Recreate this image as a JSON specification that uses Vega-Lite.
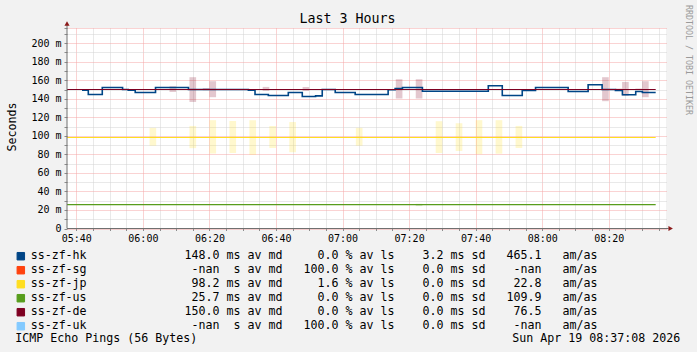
{
  "$schema": "https://vega.github.io/schema/vega-lite/v6.json",
  "width": 599,
  "height": 200.5,
  "autosize": {"type": "none"},
  "padding": {"left": 67, "top": 28, "right": 31, "bottom": 123.5},
  "background": "#F2F2F2",
  "view": {"fill": "#FFFFFF", "stroke": null},
  "config": {"font": "DejaVu Sans Mono"},
  "title": {"text": "Last 3 Hours", "font": "DejaVu Sans Mono", "fontSize": 13.3, "fontWeight": "normal", "color": "#000000", "anchor": "middle", "frame": "group", "dx": -19, "baseline": "alphabetic", "offset": 0, "dy": 31.3},
  "datasets": {
    "smoke": [
      {"series": "ss-zf-jp", "t": 362, "t2": 364, "lo": 89.4, "hi": 108.6},
      {"series": "ss-zf-jp", "t": 374, "t2": 376, "lo": 86.7, "hi": 110.7},
      {"series": "ss-zf-jp", "t": 380, "t2": 382, "lo": 80.9, "hi": 116.9},
      {"series": "ss-zf-jp", "t": 386, "t2": 388, "lo": 81.6, "hi": 116.0},
      {"series": "ss-zf-jp", "t": 392, "t2": 394, "lo": 79.6, "hi": 116.9},
      {"series": "ss-zf-jp", "t": 398, "t2": 400, "lo": 86.9, "hi": 110.6},
      {"series": "ss-zf-jp", "t": 404, "t2": 406, "lo": 82.3, "hi": 114.9},
      {"series": "ss-zf-jp", "t": 424, "t2": 426, "lo": 89.4, "hi": 108.6},
      {"series": "ss-zf-jp", "t": 448, "t2": 450, "lo": 81.5, "hi": 115.8},
      {"series": "ss-zf-jp", "t": 454, "t2": 456, "lo": 83.7, "hi": 113.6},
      {"series": "ss-zf-jp", "t": 460, "t2": 462, "lo": 80.2, "hi": 116.9},
      {"series": "ss-zf-jp", "t": 466, "t2": 468, "lo": 80.7, "hi": 116.9},
      {"series": "ss-zf-jp", "t": 472, "t2": 474, "lo": 86.9, "hi": 110.7},
      {"series": "ss-zf-de", "t": 368, "t2": 370, "lo": 147.4, "hi": 153.6},
      {"series": "ss-zf-de", "t": 374, "t2": 376, "lo": 136.6, "hi": 163.3},
      {"series": "ss-zf-de", "t": 378, "t2": 380, "lo": 149.3, "hi": 151.7},
      {"series": "ss-zf-de", "t": 380, "t2": 382, "lo": 141.7, "hi": 159.0},
      {"series": "ss-zf-de", "t": 396, "t2": 398, "lo": 148.5, "hi": 152.8},
      {"series": "ss-zf-de", "t": 408, "t2": 410, "lo": 148.5, "hi": 152.8},
      {"series": "ss-zf-de", "t": 436, "t2": 438, "lo": 140.3, "hi": 161.1},
      {"series": "ss-zf-de", "t": 442, "t2": 444, "lo": 140.3, "hi": 161.1},
      {"series": "ss-zf-de", "t": 498, "t2": 500, "lo": 137.4, "hi": 163.3},
      {"series": "ss-zf-de", "t": 502, "t2": 504, "lo": 149.3, "hi": 151.1},
      {"series": "ss-zf-de", "t": 504, "t2": 506, "lo": 143.1, "hi": 158.2},
      {"series": "ss-zf-de", "t": 508, "t2": 510, "lo": 149.3, "hi": 151.1},
      {"series": "ss-zf-de", "t": 510, "t2": 512, "lo": 141.7, "hi": 159.0},
      {"series": "ss-zf-us", "t": 442, "t2": 444, "lo": 24.2, "hi": 26.6}
    ],
    "hk": [
      {"series": "ss-zf-hk", "t": 341.7, "v": 149.3},
      {"series": "ss-zf-hk", "t": 343.6, "v": 144.6},
      {"series": "ss-zf-hk", "t": 347.8, "v": 152.2},
      {"series": "ss-zf-hk", "t": 353.9, "v": 150.0},
      {"series": "ss-zf-hk", "t": 355.6, "v": 149.3},
      {"series": "ss-zf-hk", "t": 357.7, "v": 146.8},
      {"series": "ss-zf-hk", "t": 363.8, "v": 152.2},
      {"series": "ss-zf-hk", "t": 373.7, "v": 150.0},
      {"series": "ss-zf-hk", "t": 391.7, "v": 149.3},
      {"series": "ss-zf-hk", "t": 393.7, "v": 144.6},
      {"series": "ss-zf-hk", "t": 397.7, "v": 143.5},
      {"series": "ss-zf-hk", "t": 403.7, "v": 146.8},
      {"series": "ss-zf-hk", "t": 407.9, "v": 142.5},
      {"series": "ss-zf-hk", "t": 411.9, "v": 143.1},
      {"series": "ss-zf-hk", "t": 413.9, "v": 150.0},
      {"series": "ss-zf-hk", "t": 417.8, "v": 146.8},
      {"series": "ss-zf-hk", "t": 423.8, "v": 144.6},
      {"series": "ss-zf-hk", "t": 433.7, "v": 149.8},
      {"series": "ss-zf-hk", "t": 435.8, "v": 151.1},
      {"series": "ss-zf-hk", "t": 438.0, "v": 152.2},
      {"series": "ss-zf-hk", "t": 444.0, "v": 148.2},
      {"series": "ss-zf-hk", "t": 463.8, "v": 154.1},
      {"series": "ss-zf-hk", "t": 468.0, "v": 143.5},
      {"series": "ss-zf-hk", "t": 474.0, "v": 148.9},
      {"series": "ss-zf-hk", "t": 478.0, "v": 152.2},
      {"series": "ss-zf-hk", "t": 487.8, "v": 147.9},
      {"series": "ss-zf-hk", "t": 493.8, "v": 155.2},
      {"series": "ss-zf-hk", "t": 498.0, "v": 150.0},
      {"series": "ss-zf-hk", "t": 502.0, "v": 148.9},
      {"series": "ss-zf-hk", "t": 504.1, "v": 144.4},
      {"series": "ss-zf-hk", "t": 508.1, "v": 147.9},
      {"series": "ss-zf-hk", "t": 510.1, "v": 146.8},
      {"series": "ss-zf-hk", "t": 514.1, "v": 146.8}
    ],
    "flat": [
      {"series": "ss-zf-jp", "t": 337.2, "v": 98.2},
      {"series": "ss-zf-jp", "t": 514.1, "v": 98.2},
      {"series": "ss-zf-us", "t": 337.2, "v": 25.7},
      {"series": "ss-zf-us", "t": 514.1, "v": 25.7},
      {"series": "ss-zf-de", "t": 337.2, "v": 150.0},
      {"series": "ss-zf-de", "t": 514.1, "v": 150.0}
    ],
    "frame": [
      {"role": "axis", "t": 337.2, "t2": 337.2, "v": 0, "v2": 219.5},
      {"role": "axis", "t": 337.2, "t2": 518.0, "v": 0, "v2": 0},
      {"role": "up", "t": 337.2, "v": 221.2},
      {"role": "right", "t": 518.6, "v": 0},
      {"role": "credit", "t": 523.9, "v": 241.2, "label": "RRDTOOL / TOBI OETIKER"}
    ]
  },
  "resolve": {"axis": {"x": "independent", "y": "independent"}},
  "layer": [
    {
      "data": {"name": "smoke"},
      "mark": {"type": "rect", "opacity": 0.22},
      "encoding": {
        "x": {"field": "t", "type": "quantitative", "scale": {"domain": [337.2, 517.2], "zero": false, "nice": false},
          "axis": {
            "values": [340,345,350,355,360,365,370,375,380,385,390,395,400,405,410,415,420,425,430,435,440,445,450,455,460,465,470,475,480,485,490,495,500,505,510,515],
            "labelExpr": "datum.value % 20 === 0 ? (datum.value < 600 ? '0' : '') + floor(datum.value / 60) + ':' + (datum.value % 60 < 10 ? '0' : '') + (datum.value % 60) : ''",
            "labelFont": "DejaVu Sans Mono", "labelFontSize": 10, "labelColor": "#000000", "labelPadding": 3,
            "labelOverlap": false, "labelFlush": false, "labelBound": false,
            "tickSize": 2, "tickColor": "#8c8c8c",
            "domain": false,
            "grid": true,
            "gridColor": {"condition": {"test": "datum.value % 20 === 0", "value": "#F4A6A6"}, "value": "#D2D2D2"},
            "gridDash": [1, 1], "gridWidth": 1,
            "title": "ICMP Echo Pings (56 Bytes)\u00a0\u00a0\u00a0\u00a0\u00a0\u00a0\u00a0\u00a0\u00a0\u00a0\u00a0\u00a0\u00a0\u00a0\u00a0\u00a0\u00a0\u00a0\u00a0\u00a0\u00a0\u00a0\u00a0\u00a0\u00a0\u00a0\u00a0\u00a0\u00a0\u00a0\u00a0\u00a0\u00a0\u00a0\u00a0\u00a0\u00a0\u00a0\u00a0\u00a0\u00a0\u00a0\u00a0\u00a0\u00a0Sun Apr 19 08:37:08 2026",
            "titleFont": "DejaVu Sans Mono", "titleFontSize": 11.63, "titleFontWeight": "normal", "titleColor": "#000000",
            "titleX": -52.2, "titleY": 113.2, "titleAlign": "left", "titleBaseline": "alphabetic", "titleAnchor": "start"
          }},
        "x2": {"field": "t2"},
        "y": {"field": "lo", "type": "quantitative", "scale": {"domain": [0, 216.4], "zero": false, "nice": false},
          "axis": {
            "orient": "left",
            "values": [0,10,20,30,40,50,60,70,80,90,100,110,120,130,140,150,160,170,180,190,200,210,216.4],
            "labelExpr": "datum.value === 0 ? '0' : (datum.value % 20 === 0 ? datum.value + ' m' : '')",
            "labelFont": "DejaVu Sans Mono", "labelFontSize": 10, "labelColor": "#000000", "labelPadding": 3,
            "labelOverlap": false, "labelFlush": false, "labelBound": false,
            "tickSize": 3, "tickColor": "#8c8c8c",
            "domain": false,
            "grid": true,
            "gridColor": {"condition": {"test": "datum.value % 20 === 0 || datum.value > 215", "value": "#F4A6A6"}, "value": "#D2D2D2"},
            "gridDash": [1, 1], "gridWidth": 1,
            "title": "Seconds",
            "titleFont": "DejaVu Sans Mono", "titleFontSize": 11.63, "titleFontWeight": "normal", "titleColor": "#000000",
            "titleAngle": 270, "titleX": -52, "titleY": 98.5, "titleAlign": "center", "titleBaseline": "alphabetic"
          }},
        "y2": {"field": "hi"},
        "color": {"field": "series", "type": "nominal",
          "scale": {"domain": ["ss-zf-hk","ss-zf-sg","ss-zf-jp","ss-zf-us","ss-zf-de","ss-zf-uk"], "range": ["#004586","#ff420e","#ffde20","#579d1c","#7e0021","#83caff"]},
          "legend": {
            "orient": "none", "legendX": -52, "legendY": 222.4, "title": null, "direction": "vertical",
            "symbolType": "square", "symbolSize": 56, "symbolStrokeWidth": 1, "symbolStrokeColor": "#000000", "symbolOpacity": 1,
            "labelFont": "DejaVu Sans Mono", "labelFontSize": 11.63, "labelColor": "#000000", "labelLimit": 700,
            "labelOffset": 4, "rowPadding": 1.0, "padding": 0, "offset": 0,
            "encode": {"symbols": {"update": {"stroke": {"value": "#000000"}, "strokeWidth": {"value": 1}}}},
            "labelExpr": "replace(datum.label === 'ss-zf-hk' ? 'ss-zf-hk              148.0 ms av md     0.0 % av ls    3.2 ms sd   465.1   am/as' : datum.label === 'ss-zf-sg' ? 'ss-zf-sg               -nan  s av md   100.0 % av ls    0.0 ms sd    -nan   am/as' : datum.label === 'ss-zf-jp' ? 'ss-zf-jp               98.2 ms av md     1.6 % av ls    0.0 ms sd    22.8   am/as' : datum.label === 'ss-zf-us' ? 'ss-zf-us               25.7 ms av md     0.0 % av ls    0.0 ms sd   109.9   am/as' : datum.label === 'ss-zf-de' ? 'ss-zf-de              150.0 ms av md     0.0 % av ls    0.0 ms sd    76.5   am/as' : 'ss-zf-uk               -nan  s av md   100.0 % av ls    0.0 ms sd    -nan   am/as', regexp(' ', 'g'), '\u00a0')"
          }}
      }
    },
    {
      "data": {"name": "hk"},
      "mark": {"type": "line", "interpolate": "step-after", "strokeWidth": 1.6},
      "encoding": {
        "x": {"field": "t", "type": "quantitative", "axis": null},
        "y": {"field": "v", "type": "quantitative", "axis": null},
        "color": {"field": "series", "type": "nominal",
          "scale": {"domain": ["ss-zf-hk","ss-zf-sg","ss-zf-jp","ss-zf-us","ss-zf-de","ss-zf-uk"], "range": ["#004586","#ff420e","#ffde20","#579d1c","#7e0021","#83caff"]}}
      }
    },
    {
      "data": {"name": "flat"},
      "mark": {"type": "line", "strokeWidth": 1.2},
      "encoding": {
        "x": {"field": "t", "type": "quantitative", "axis": null},
        "y": {"field": "v", "type": "quantitative", "axis": null},
        "color": {"field": "series", "type": "nominal",
          "scale": {"domain": ["ss-zf-hk","ss-zf-sg","ss-zf-jp","ss-zf-us","ss-zf-de","ss-zf-uk"], "range": ["#004586","#ff420e","#ffde20","#579d1c","#7e0021","#83caff"]}}
      }
    },
    {
      "data": {"name": "frame"},
      "transform": [{"filter": "datum.role === 'axis'"}],
      "mark": {"type": "rule", "color": "#707070", "strokeWidth": 1},
      "encoding": {
        "x": {"field": "t", "type": "quantitative", "axis": null},
        "x2": {"field": "t2"},
        "y": {"field": "v", "type": "quantitative", "axis": null},
        "y2": {"field": "v2"}
      }
    },
    {
      "data": {"name": "frame"},
      "transform": [{"filter": "datum.role === 'up'"}],
      "mark": {"type": "point", "shape": "triangle-up", "filled": true, "size": 26, "color": "#8B1A1A", "opacity": 1},
      "encoding": {
        "x": {"field": "t", "type": "quantitative", "axis": null},
        "y": {"field": "v", "type": "quantitative", "axis": null}
      }
    },
    {
      "data": {"name": "frame"},
      "transform": [{"filter": "datum.role === 'right'"}],
      "mark": {"type": "point", "shape": "triangle-right", "filled": true, "size": 26, "color": "#8B1A1A", "opacity": 1},
      "encoding": {
        "x": {"field": "t", "type": "quantitative", "axis": null},
        "y": {"field": "v", "type": "quantitative", "axis": null}
      }
    },
    {
      "data": {"name": "frame"},
      "transform": [{"filter": "datum.role === 'credit'"}],
      "mark": {"type": "text", "angle": 90, "align": "left", "baseline": "middle", "font": "DejaVu Sans Mono", "fontSize": 8.3, "color": "#9A9A9A"},
      "encoding": {
        "x": {"field": "t", "type": "quantitative", "axis": null},
        "y": {"field": "v", "type": "quantitative", "axis": null},
        "text": {"field": "label"}
      }
    }
  ]
}
